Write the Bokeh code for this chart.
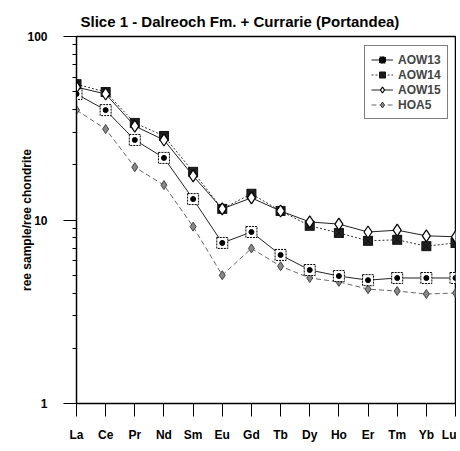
from bokeh.plotting import figure
from bokeh.models import FixedTicker, Range1d
from bokeh.embed import file_html
from bokeh.resources import INLINE

elements = ["La", "Ce", "Pr", "Nd", "Sm", "Eu", "Gd", "Tb", "Dy", "Ho", "Er", "Tm", "Yb", "Lu"]
aow13 = [48.6, 39.7, 27.3, 21.8, 13.0, 7.5, 8.6, 6.45, 5.34, 4.95, 4.7, 4.83, 4.83, 4.83]
aow14 = [55.0, 49.8, 33.8, 28.7, 18.3, 11.5, 13.9, 11.2, 9.3, 8.5, 7.7, 7.8, 7.2, 7.5]
aow15 = [53.0, 48.6, 32.5, 27.3, 17.4, 11.5, 13.2, 11.2, 9.76, 9.5, 8.6, 8.8, 8.2, 8.1]
hoa5 = [39.7, 31.3, 19.4, 15.5, 9.2, 5.0, 7.0, 5.6, 4.83, 4.6, 4.2, 4.1, 3.95, 4.0]
x = list(range(1, len(elements) + 1))

y_major = [1, 10, 100]
y_minor = [2, 3, 4, 5, 6, 7, 8, 9, 20, 30, 40, 50, 60, 70, 80, 90]

FONT2 = "'Liberation Sans', Arial, sans-serif"

p = figure(width=456, height=445, y_axis_type="log",
           x_range=Range1d(1, 14), y_range=Range1d(1, 100),
           output_backend="svg", toolbar_location=None,
           min_border_left=76, min_border_right=1, min_border_top=36, min_border_bottom=42,
           title="Slice 1 - Dalreoch Fm. + Currarie (Portandea)")

p.title.text_font = FONT2
p.title.text_font_style = "bold"
p.title.text_font_size = "15px"
p.title.align = "left"
p.title.offset = 4
p.title.standoff = 13
p.title.text_color = "black"

p.xgrid.visible = False
p.ygrid.visible = False
p.outline_line_color = "black"
p.outline_line_width = 1.5

# x axis
p.xaxis.ticker = FixedTicker(ticks=x)
p.xaxis.major_label_overrides = {i: e for i, e in zip(x, elements)}
p.xaxis.major_tick_out = 13
p.xaxis.major_tick_in = 0
p.xaxis.minor_tick_out = 0
p.xaxis.minor_tick_in = 0
p.xaxis.major_label_standoff = 11
p.xaxis.major_label_text_font = FONT2
p.xaxis.major_label_text_font_style = "bold"
p.xaxis.major_label_text_font_size = "12px"
p.xaxis.major_label_text_color = "black"
p.xaxis.axis_line_color = "black"

# y axis
p.yaxis.ticker = FixedTicker(ticks=y_major, minor_ticks=y_minor)
p.yaxis.major_label_overrides = {1: "1", 10: "10", 100: "100"}
p.yaxis.major_tick_out = 13
p.yaxis.major_tick_in = 0
p.yaxis.minor_tick_out = 4
p.yaxis.minor_tick_in = 0
p.yaxis.major_label_standoff = 16
p.yaxis.major_label_text_font = FONT2
p.yaxis.major_label_text_font_style = "bold"
p.yaxis.major_label_text_font_size = "12px"
p.yaxis.major_label_text_color = "black"
p.yaxis.axis_label = "ree sample/ree chondrite"
p.yaxis.axis_label_text_font = FONT2
p.yaxis.axis_label_text_font_style = "bold"
p.yaxis.axis_label_text_font_size = "12px"
p.yaxis.axis_label_text_color = "black"
p.yaxis.axis_label_standoff = -10
p.yaxis.axis_line_color = "black"

# series
p.line(x, hoa5, line_color="#666666", line_width=1, line_dash="5 3", legend_label="HOA5")
p.scatter(x, hoa5, marker="diamond", size=9, fill_color="#888888", line_color="#444444",
          legend_label="HOA5")

p.line(x, aow13, line_color="#222222", line_width=1, legend_label="AOW13")
p.scatter(x, aow13, marker="square", size=11, fill_color="white", line_color="black",
          line_width=1, line_dash="2 1", legend_label="AOW13")
p.scatter(x, aow13, marker="circle", size=5, fill_color="black", line_color="black",
          legend_label="AOW13")

p.line(x, aow14, line_color="#333333", line_width=1, line_dash="2 2", legend_label="AOW14")
p.scatter(x, aow14, marker="square_x", size=9, fill_color="#222222", line_color="#111111",
          legend_label="AOW14")

p.line(x, aow15, line_color="#222222", line_width=1, legend_label="AOW15")
p.scatter(x, aow15, marker="diamond", size=12, fill_color="white", line_color="black",
          line_width=1.2, legend_label="AOW15")

leg = p.legend[0]
order = ["AOW13", "AOW14", "AOW15", "HOA5"]
leg.items = sorted(leg.items, key=lambda it: order.index(it.label.value))
leg.location = (288, 284)
leg.label_text_font = FONT2
leg.label_text_font_style = "bold"
leg.label_text_font_size = "12px"
leg.label_height = 15
leg.glyph_height = 15
leg.glyph_width = 22
leg.spacing = 0
leg.padding = 6
leg.margin = 0
leg.label_standoff = 5
leg.border_line_color = "black"
leg.border_line_width = 1
leg.background_fill_alpha = 1

open("out.html", "w").write(file_html(p, INLINE))
